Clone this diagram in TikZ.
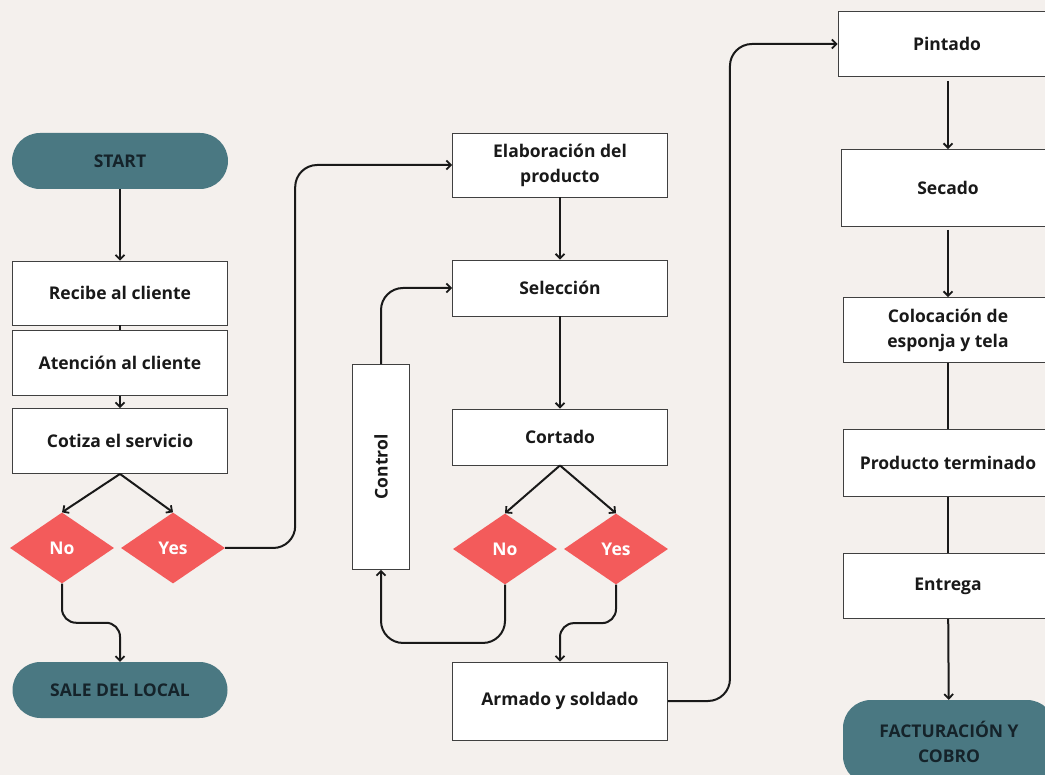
\documentclass[tikz,border=0pt]{standalone}
\usepackage{fontspec}
\setmainfont{Open Sans}
\usetikzlibrary{shapes.geometric,arrows.meta,calc}
\definecolor{bgc}{HTML}{F4F0ED}
\definecolor{teal}{HTML}{4A7882}
\definecolor{redd}{HTML}{F35B5B}
\definecolor{darktxt}{HTML}{15232A}
\tikzset{
  box/.style={rectangle, draw=black!75, line width=0.9pt, fill=white, inner sep=0pt, align=center,
     font=\fontsize{17.5}{25}\selectfont\bfseries, text=black!90},
  term/.style={rectangle, rounded corners=28pt, fill=teal, inner sep=0pt, align=center,
     font=\fontsize{17.5}{25}\selectfont\bfseries, text=darktxt},
  dec/.style={diamond, fill=redd, inner sep=0pt, minimum width=104pt, minimum height=71pt,
     font=\fontsize{17.5}{20}\selectfont\bfseries, text=white},
  arr/.style={line width=2pt, draw=black!90, -{Straight Barb[length=4.5pt,width=9pt,line width=1.8pt]}},
  ln/.style={line width=2pt, draw=black!90},
}
\begin{document}
\begin{tikzpicture}[x=1pt,y=-1pt]
\fill[bgc] (0,0) rectangle (1045,775);
\useasboundingbox (0,0) rectangle (1045,775);
\begin{scope}
\clip (0,0) rectangle (1045,775);
% left column
\node[term, minimum width=216pt, minimum height=56pt] (start) at (120,161) {START};
\node[box, minimum width=215pt, minimum height=64pt] (rec) at (120,293) {Recibe al cliente};
\node[box, minimum width=215pt, minimum height=65pt] (ate) at (120,363) {Atención al cliente};
\node[box, minimum width=215pt, minimum height=65pt] (cot) at (120,441) {Cotiza el servicio};
\node[dec] (no1) at (62,548) {No};
\node[dec] (yes1) at (173,548) {Yes};
\node[term, minimum width=215pt, minimum height=56pt] (sale) at (120,690) {SALE DEL LOCAL};
% middle column
\node[box, minimum width=215pt, minimum height=64pt] (elab) at (560,165) {Elaboración del\\producto};
\node[box, minimum width=215pt, minimum height=56pt] (sel) at (560,288) {Selección};
\node[box, minimum width=57pt, minimum height=205pt] (ctrl) at (381,467) {\rotatebox{90}{Control}};
\node[box, minimum width=215pt, minimum height=56pt] (cort) at (560,437) {Cortado};
\node[dec] (no2) at (505,549) {No};
\node[dec] (yes2) at (616,549) {Yes};
\node[box, minimum width=215pt, minimum height=78pt] (arm) at (560,701) {Armado y soldado};
% right column
\node[box, minimum width=218pt, minimum height=65pt] (pint) at (947,44) {Pintado};
\node[box, minimum width=214pt, minimum height=77pt] (sec) at (948,188) {Secado};
\node[box, minimum width=210pt, minimum height=65pt] (col) at (948,330) {Colocación de\\esponja y tela};
\node[box, minimum width=210pt, minimum height=67pt] (prod) at (948,463) {Producto terminado};
\node[box, minimum width=210pt, minimum height=65pt] (ent) at (948,586) {Entrega};
\node[term, minimum width=212pt, minimum height=84pt] (fac) at (949,742) {FACTURACIÓN Y\\COBRO};
% connectors left
\draw[arr] (start) -- (rec);
\draw[ln] (rec) -- (ate);
\draw[arr] (ate) -- (cot);
\draw[arr] (cot.south) -- (no1.north);
\draw[arr] (cot.south) -- (yes1.north);
\draw[arr, rounded corners=22pt] (yes1.east) -- ++(70,0) |- (elab.west);
\draw[arr, rounded corners=14pt] (no1.south) |- ($(no1.south)!0.5!(sale.north)$) -| (sale.north);
% connectors middle
\draw[arr] (elab) -- (sel);
\draw[arr] (sel) -- (cort);
\draw[arr] (cort.south) -- (no2.north);
\draw[arr] (cort.south) -- (yes2.north);
\draw[arr, rounded corners=22pt] (no2.south) |- ($(ctrl.south)+(0,73)$) -- (ctrl.south);
\draw[arr, rounded corners=22pt] (ctrl.north) |- (sel.west);
\draw[arr, rounded corners=14pt] (yes2.south) |- ($(yes2.south)!0.5!(arm.north)$) -| (arm.north);
\draw[arr, rounded corners=22pt] (arm.east) -- ++(62,0) |- (pint.west);
% connectors right
\draw[arr] ($(pint.south)+(1,4)$) -- (sec.north);
\draw[arr] ($(sec.south)+(0,3)$) -- (col.north);
\draw[ln] (col) -- (prod);
\draw[ln] (prod) -- (ent);
\draw[arr] (ent) -- (fac);
\end{scope}
\end{tikzpicture}
\end{document}
